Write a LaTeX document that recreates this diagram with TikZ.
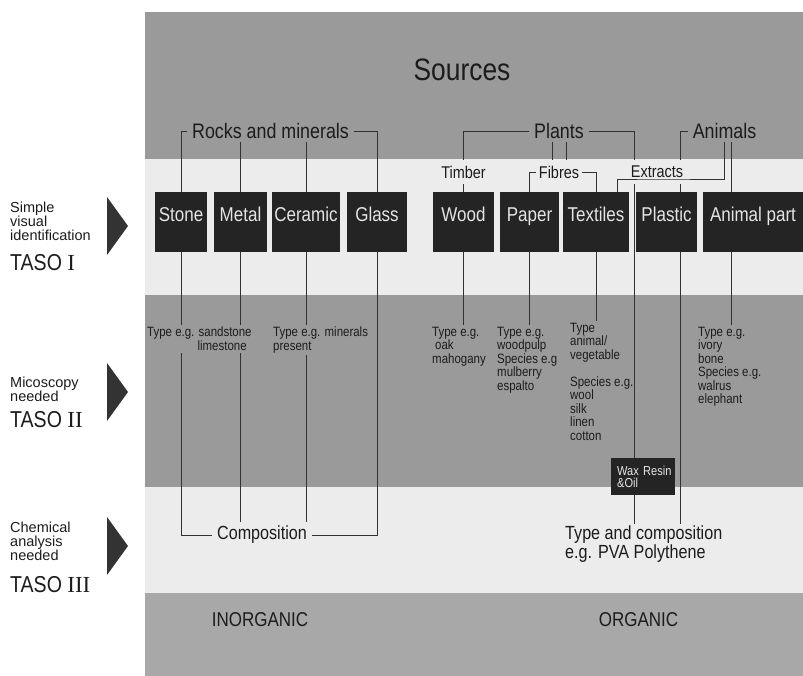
\documentclass[tikz,border=0pt]{standalone}
\usepackage{fontspec}
\setmainfont{Liberation Sans}[FakeStretch=0.85]
\newfontfamily\numfont{Liberation Serif}
\newfontfamily\plainsans{Liberation Sans}

\definecolor{bandgray}{RGB}{154,154,154}
\definecolor{bandlight}{RGB}{236,236,236}
\definecolor{footgray}{RGB}{168,168,168}
\definecolor{boxfill}{RGB}{36,36,36}
\definecolor{boxtext}{RGB}{228,228,228}
\definecolor{ink}{RGB}{28,28,28}
\definecolor{linegray}{RGB}{50,50,50}

\newcommand\srcfont{\fontsize{31}{34}\selectfont}
\newcommand\groupfont{\fontsize{21}{24}\selectfont}
\newcommand\boxfont{\fontsize{20}{24}\selectfont}
\newcommand\subfont{\fontsize{17}{20}\selectfont}
\newcommand\typefont{\fontsize{13.5}{13.5}\selectfont}
\newcommand\waxfont{\fontsize{13}{11.5}\selectfont}
\newcommand\compfont{\fontsize{19}{19}\selectfont}
\newcommand\stagefont{\plainsans\fontsize{14.5}{14}\selectfont}
\newcommand\tasofont{\fontsize{23}{26}\selectfont}

\pgfdeclarelayer{bands}
\pgfdeclarelayer{lines}
\pgfsetlayers{bands,lines,main}

\tikzset{
      matbox/.style   = { fill=boxfill, text=boxtext, minimum height=60pt, inner sep=0pt,
                          text height=15pt, text depth=15pt, font=\boxfont },
      group/.style    = { text=ink, inner xsep=5pt, inner ysep=3pt, font=\groupfont },
      sub/.style      = { text=ink, fill=bandlight, inner xsep=3pt, inner ysep=6pt, font=\subfont },
      typetext/.style = { text=ink, anchor=north west, align=left, inner sep=2pt, font=\typefont },
      link/.style     = { draw=linegray, line width=0.8pt },
      stage/.style    = { text=ink, anchor=north west, align=left, inner sep=0pt, font=\stagefont },
      taso/.style     = { text=ink, anchor=base west, inner sep=0pt, font=\tasofont },
      kind/.style     = { text=ink, font=\boxfont }
    }

\begin{document}
\begin{tikzpicture}[x=1pt, y=-1pt]
      \useasboundingbox (0,0) rectangle (803,676);

      % Draw the bands
      \begin{pgfonlayer}{bands}
        \fill[bandgray]  (145,12)  rectangle (803,159);
        \fill[bandlight] (145,159) rectangle (803,295);
        \fill[bandgray]  (145,295) rectangle (803,487);
        \fill[bandlight] (145,487) rectangle (803,593);
        \fill[footgray]  (145,593) rectangle (803,676);
      \end{pgfonlayer}

      % Draw the stages on the left
      \foreach \y in {226,392,546} {
        \fill[ink!90] (107,\y-29) -- (128,\y) -- (107,\y+29) -- cycle;
      }
      \node[stage] (simple) at (10,202) {Simple\\visual\\identification};
      \node[taso]  (taso1)  at (10,271) {TASO {\numfont I}};
      \node[stage] (micro)  at (10,377) {Micoscopy\\needed};
      \node[taso]  (taso2)  at (10,427) {TASO {\numfont II}};
      \node[stage] (chem)   at (10,522) {Chemical\\analysis\\needed};
      \node[taso]  (taso3)  at (10,592) {TASO {\numfont III}};

      % Draw sources and groups
      \node[font=\srcfont, text=ink] (sources) at (462,70) {Sources};
      \node[group] (rocks)    at (270.5,131) {Rocks and minerals};
      \node[group] (plants)   at (559,131)   {Plants};
      \node[group] (animals)  at (724.5,131) {Animals};
      \node[sub]   (timber)   at (463.5,172) {Timber};
      \node[sub]   (fibres)   at (559,172)   {Fibres};
      \node[sub]   (extracts) at (657,172)   {Extracts};

      % Draw the materials
      \foreach \nm/\txt/\x/\w in {stone/Stone/181/52, metal/Metal/240.5/53, ceramic/Ceramic/306/68,
                                  glass/Glass/377/60, wood/Wood/463.5/61, paper/Paper/529.5/59,
                                  textiles/Textiles/596/66, plastic/Plastic/666.5/61,
                                  animalpart/Animal part/753/100} {
        \node[matbox, minimum width=\w pt] (\nm) at (\x,222) {\txt};
      }
      \node[fill=boxfill, text=boxtext, anchor=north west, align=left, text width=58pt,
            inner xsep=3pt, inner ysep=0pt, minimum height=37pt, font=\waxfont]
            (wax) at (611,458) {\hspace{3pt}Wax Resin\\\hspace{3pt}\&Oil};

      % Draw the types
      \node[typetext, fill=bandgray] (sandtype) at (145,325) {Type e.g. sandstone\\\hphantom{Type e.g.\ }limestone};
      \node[typetext, fill=bandgray] (mintype)  at (271,325) {Type e.g. minerals\\present};
      \node[typetext] (woodtype)   at (430,325) {Type e.g.\\\hspace{3pt}oak\\mahogany};
      \node[typetext] (papertype)  at (495,325) {Type e.g.\\woodpulp\\Species e.g\\mulberry\\espalto};
      \node[typetext] (textype)    at (568,321) {Type\\animal/\\vegetable\\[13.5pt]Species e.g.\\wool\\silk\\linen\\cotton};
      \node[typetext] (animaltype) at (696,325) {Type e.g.\\ivory\\bone\\Species e.g.\\walrus\\elephant};

      \node[font=\compfont, text=ink, inner xsep=5pt, inner ysep=4pt] (comp) at (262,535) {Composition};
      \node[font=\compfont, text=ink, anchor=north west, align=left, inner sep=2pt]
            (typecomp) at (563,524) {Type and composition\\e.g. PVA Polythene};

      \node[kind] (inorganic) at (260,620)   {INORGANIC};
      \node[kind] (organic)   at (638.5,620) {ORGANIC};

      % Draw all connectors
      \begin{pgfonlayer}{lines}
        \draw[link] (rocks.west) -| (stone.north);
        \draw[link] (rocks.east) -| (glass.north);
        \draw[link] (metal.north |- rocks.south) -- (metal.north);
        \draw[link] (ceramic.north |- rocks.south) -- (ceramic.north);

        \draw[link] (plants.west) -| (timber.north);
        \draw[link] (timber.south) -- (wood.north);
        \draw[link] ([xshift=-7pt]plants.south) -- ([xshift=-7pt]fibres.north);
        \draw[link] ([xshift=7pt]plants.south) -- ([xshift=7pt]fibres.north);
        \draw[link] (fibres.west) -| (paper.north);
        \draw[link] (fibres.east) -| (textiles.north);
        \draw[link] (plants.east) -| ([xshift=71pt]typecomp.north west);

        \draw[link] (animals.west) -| ([xshift=117pt]typecomp.north west);
        \draw[link] ([xshift=7pt]animals.south) -- ([xshift=7pt]animals.south |- animalpart.north);

        \draw[link] (stone.south) |- (comp.west);
        \draw[link] (glass.south) |- (comp.east);
        \draw[link] (metal.south) -- (metal.south |- comp.north);
        \draw[link] (ceramic.south) -- (ceramic.south |- comp.north);

        \draw[link] (wood.south) -- (wood.south |- woodtype.north);
        \draw[link] (paper.south) -- (paper.south |- papertype.north);
        \draw[link] (textiles.south) -- (textiles.south |- textype.north);
        \draw[link] ([xshift=7pt]animals.south |- animalpart.south)
                    -- ([xshift=7pt]animals.south |- animaltype.north);
      \end{pgfonlayer}

      \draw[link] (animals.south) |- ([yshift=-7pt]extracts.center) -| ([xshift=21pt]textiles.north);
\end{tikzpicture}
\end{document}
